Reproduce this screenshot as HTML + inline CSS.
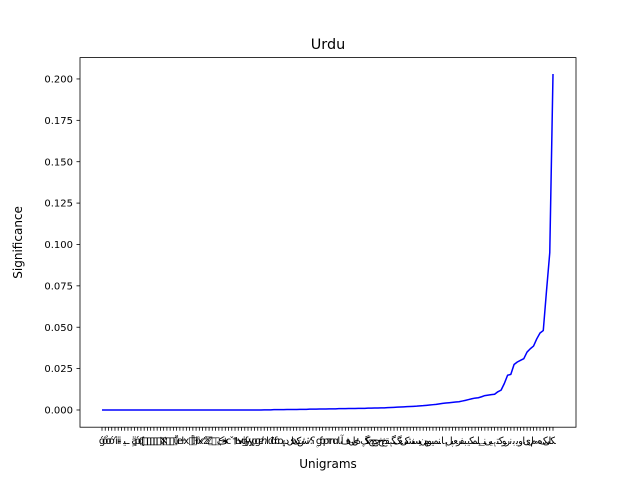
<!DOCTYPE html>
<html><head><meta charset="utf-8"><style>
html,body{margin:0;padding:0;background:#fff;}
svg{display:block;font-family:"DejaVu Sans","Liberation Sans","Noto Sans CJK SC",sans-serif;}
</style></head><body>
<svg id="chart" width="640" height="480" viewBox="0 0 640 480">
<rect width="640" height="480" fill="#fff"/>
<text x="328" y="49" font-size="14.4" text-anchor="middle">Urdu</text>
<text x="328" y="468" font-size="12" text-anchor="middle">Unigrams</text>
<text transform="translate(22,242.4) rotate(-90)" font-size="12" text-anchor="middle">Significance</text>
<g id="plot"></g>
</svg>
<script>
const labelChars = Array.from("ǵổσớ´ⅲ̵ﯿـٍäṕᶑ□□□□□□ℵ□□□ǚeŀⅹ［□ℍⅸ⁄ẑℤ□□ٜڪ∗ⅽˇ†Ьⅵɠɏуᵱɡɐℎⅼᵭɗcɒ۽دلɘکتﺵ﻿٪ʕۣɠɒpᴛnɑﺎﺁﻑەلۍۀ۪ﮓﻛﺞﭻﭼﺦﺥﻘﮨﮕﮒﻐﯽﮐﺸﻧﺴﯾﻥﻬﻮﻴﻤﻨﺎﮨﻞﭘﻌﺮﻔﺒﯾﮑﻤﻠﮯﻨﯽﯿﮨﺘﮐﻮﺭﻧﺑﯾﻭﺍﯼﻝﻡﮦﻩﮏﯽﻟﮑکا");
const zeroCount = 50;
const lowValues = [0.0001,0.0001,0.0001,0.0002,0.0002,0.0002,0.0002,0.0003,0.0003,0.0003,0.0003,0.0004,0.0004,0.0004,0.0005,0.0005,0.0005,0.0006,0.0006,0.0006,0.0007,0.0007,0.0007,0.0008,0.0008,0.0008,0.0009,0.0009,0.0009,0.001,0.001,0.001,0.0011,0.0011,0.0012,0.0012,0.0013,0.0013];
const midValues = [0.0014,0.0015,0.0016,0.0017,0.0018,0.0019,0.002,0.0021,0.0022,0.0023,0.0025,0.0026,0.0028,0.003,0.0032,0.0034,0.0037,0.004,0.0042,0.0044,0.0046,0.0048,0.005,0.0054,0.0058,0.0063,0.0068,0.0072,0.0074,0.008,0.0087,0.009,0.0093,0.0095,0.011,0.012,0.016,0.021,0.0215,0.0275,0.029,0.030,0.031,0.035,0.037,0.0386,0.043,0.0465,0.048,0.072,0.095,0.203];
const yTicks = [0,0.025,0.05,0.075,0.1,0.125,0.15,0.175,0.2];
const yTickLabels = ["0.000","0.025","0.050","0.075","0.100","0.125","0.150","0.175","0.200"];

const values = new Array(zeroCount).fill(0).concat(lowValues, midValues);
const N = values.length;
const L = 80, R = 576, T = 57.6, B = 427.2;
const yMin = -0.0104, yMax = 0.2129;
const xFirst = 102, xLast = 553;
const xS = i => xFirst + (xLast - xFirst) * i / (N - 1);
const yS = v => B - (v - yMin) / (yMax - yMin) * (B - T);
const NS = "http://www.w3.org/2000/svg";
const plot = document.getElementById('plot');
function mk(tag, attrs, parent) {
  const e = document.createElementNS(NS, tag);
  for (const k in attrs) e.setAttribute(k, attrs[k]);
  (parent || plot).appendChild(e);
  return e;
}
// y ticks
yTicks.forEach((v, i) => {
  const y = yS(v);
  const t = mk('line', {x1: L - 3.5, x2: L, y1: y, y2: y, stroke: '#000', 'stroke-width': 0.8});
  
  
  const lb = mk('text', {x: L - 7, y: y + 3.6, 'font-size': 10, 'text-anchor': 'end'});
  lb.textContent = yTickLabels[i];
  
  
});
// x ticks
for (let i = 0; i < N; i++) {
  const x = xS(i);
  const t = mk('line', {x1: x, x2: x, y1: B, y2: B + 3.5, stroke: '#000', 'stroke-width': 0.8});
  
  
  const lb = mk('text', {x: x, y: B + 17, 'font-size': 10, 'text-anchor': 'middle'});
  lb.textContent = labelChars[i % labelChars.length];
  
  
}
// line
const pts = values.map((v, i) => xS(i).toFixed(2) + ',' + yS(v).toFixed(2)).join(' ');
const line = mk('polyline', {points: pts, fill: 'none', stroke: '#0000ff', 'stroke-width': 1.5, 'stroke-linejoin': 'round'});


// frame
const fr = mk('rect', {x: L, y: T, width: R - L, height: B - T, fill: 'none', stroke: '#000', 'stroke-width': 0.8});


</script>
</body></html>
